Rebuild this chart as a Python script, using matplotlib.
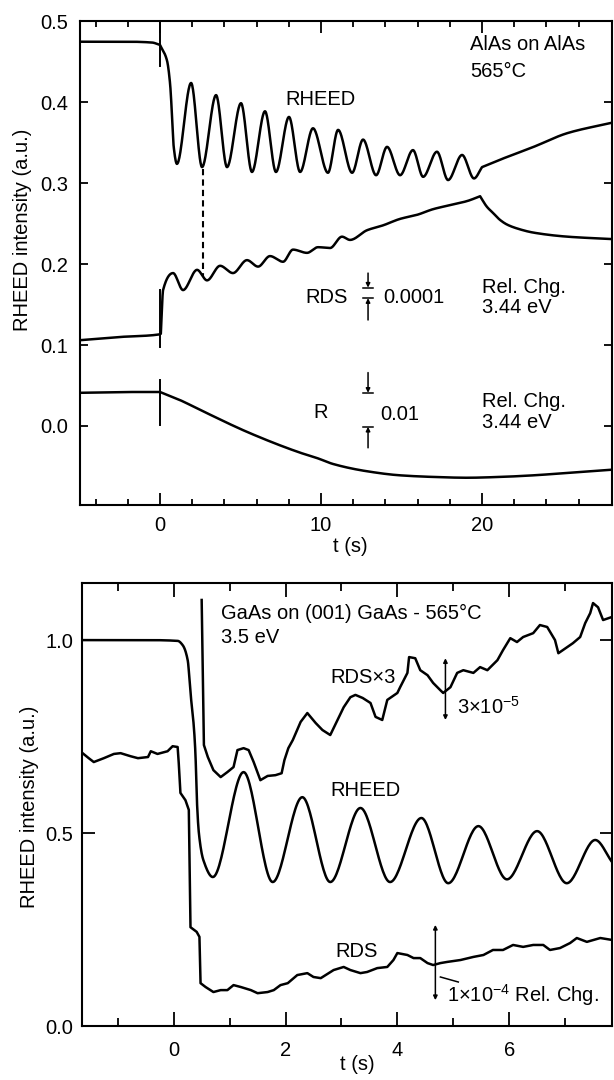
import numpy as np
import matplotlib
matplotlib.use('Agg')
import matplotlib.pyplot as plt

plt.rcParams['font.family'] = ['Liberation Sans', 'DejaVu Sans']
plt.rcParams['mathtext.default'] = 'regular'

# ---------------- top panel: AlAs on AlAs ----------------
rheed_top_t = [-5.0, -2.0, -0.5, 0.0, 0.43, 0.62, 0.75, 0.85, 1.05,
               1.93, 2.61, 3.48, 4.16, 5.03, 5.71, 6.52, 7.20, 8.01, 8.70, 9.50, 10.43,
               11.06, 11.93, 12.61, 13.42, 14.10, 14.91, 15.71, 16.34, 17.20, 17.89, 18.76, 19.50,
               20.00, 21.10, 23.20, 25.30, 28.10]
rheed_top_v = [0.475, 0.475, 0.474, 0.471, 0.452, 0.424, 0.382, 0.345, 0.324,
               0.424, 0.320, 0.409, 0.320, 0.399, 0.314, 0.389, 0.314, 0.382, 0.314, 0.368, 0.313,
               0.366, 0.313, 0.354, 0.310, 0.345, 0.310, 0.341, 0.308, 0.339, 0.304, 0.335, 0.306,
               0.320, 0.329, 0.345, 0.362, 0.375]

rds_top_t = [-5.0, -2.5, -0.1, 0.05,
             0.19, 0.81, 1.43, 2.30, 2.92, 3.73, 4.53, 5.40, 6.09, 6.83, 7.64, 8.26, 9.13,
             9.81, 10.56, 11.30, 11.80,
             12.86, 13.85, 14.91, 15.96, 16.96, 18.01, 19.07, 19.88,
             20.30, 20.70, 21.10, 21.55, 22.20, 23.20, 25.30, 28.10]
rds_top_v = [0.106, 0.110, 0.113, 0.114,
             0.168, 0.189, 0.168, 0.193, 0.180, 0.198, 0.189, 0.205, 0.197, 0.210, 0.203, 0.218, 0.214,
             0.221, 0.220, 0.234, 0.230,
             0.242, 0.248, 0.256, 0.261, 0.268, 0.273, 0.278, 0.284,
             0.271, 0.263, 0.255, 0.249, 0.244, 0.239, 0.234, 0.231]

r_top_t = [-5.0, -2.0, 0.0, 1.24, 2.48, 5.60, 8.70, 9.80, 10.75, 12.86, 14.90,
           16.96, 19.07, 21.10, 23.20, 25.30, 28.10]
r_top_v = [0.041, 0.042, 0.042, 0.032, 0.020, -0.009, -0.033, -0.040, -0.047, -0.056, -0.061,
           -0.063, -0.064, -0.063, -0.061, -0.058, -0.054]

# ---------------- bottom panel: GaAs on (001) GaAs ----------------
rheed_bot_t = [-1.65, -0.5, 0.07, 0.16, 0.25, 0.30, 0.36, 0.39, 0.41, 0.45, 0.53, 0.70,
               1.25, 1.77, 2.30, 2.80, 3.34, 3.87, 4.43, 4.91, 5.45, 5.96, 6.50, 7.03, 7.54, 7.84]
rheed_bot_v = [1.000, 1.000, 0.998, 0.987, 0.948, 0.863, 0.775, 0.700, 0.600, 0.500, 0.430, 0.386,
               0.658, 0.373, 0.593, 0.373, 0.565, 0.373, 0.539, 0.370, 0.518, 0.380, 0.505, 0.370,
               0.482, 0.425]

rds3_t = [0.50, 0.54, 0.61, 0.71, 0.84, 0.96, 1.07, 1.14, 1.25, 1.34, 1.43, 1.55, 1.68, 1.82,
          1.93, 1.98, 2.05, 2.13, 2.27, 2.39, 2.54, 2.66, 2.80, 2.93, 3.04, 3.16, 3.25, 3.38,
          3.52, 3.61, 3.73, 3.82, 4.00, 4.05, 4.18, 4.21, 4.32, 4.41, 4.54, 4.64, 4.77, 4.82,
          4.95, 5.07, 5.18, 5.36, 5.48, 5.61, 5.79, 5.89, 6.02, 6.14, 6.25, 6.43, 6.55, 6.68,
          6.82, 6.88, 7.04, 7.14, 7.27, 7.36, 7.45, 7.50, 7.59, 7.68, 7.84]
rds3_v = [1.104, 0.728, 0.697, 0.663, 0.645, 0.658, 0.671, 0.715, 0.720, 0.715, 0.684, 0.637,
          0.648, 0.650, 0.655, 0.689, 0.720, 0.741, 0.788, 0.811, 0.785, 0.767, 0.754, 0.793,
          0.826, 0.852, 0.858, 0.850, 0.837, 0.801, 0.793, 0.845, 0.863, 0.878, 0.915, 0.956,
          0.953, 0.922, 0.909, 0.889, 0.870, 0.863, 0.878, 0.915, 0.922, 0.915, 0.930, 0.922,
          0.948, 0.974, 1.005, 0.995, 1.008, 1.018, 1.039, 1.034, 1.000, 0.966, 0.982, 0.992,
          1.008, 1.044, 1.070, 1.096, 1.085, 1.052, 1.060]

rds_bot_t = [-1.63, -1.52, -1.43, -1.25, -1.07, -0.95, -0.77, -0.64, -0.46, -0.41, -0.29, -0.11,
             -0.02, 0.07, 0.09, 0.12, 0.21, 0.27, 0.30, 0.41, 0.46, 0.48, 0.57, 0.71, 0.84, 0.96,
             1.07, 1.20, 1.38, 1.50, 1.68, 1.79, 1.91, 2.04, 2.21, 2.39, 2.50, 2.63, 2.86, 3.04,
             3.16, 3.34, 3.46, 3.64, 3.82, 3.93, 4.00, 4.18, 4.29, 4.41, 4.54, 4.64, 4.77, 4.89,
             5.13, 5.36, 5.54, 5.71, 5.89, 6.07, 6.25, 6.43, 6.61, 6.73, 6.91, 7.09, 7.21, 7.39,
             7.63, 7.84]
rds_bot_v = [0.707, 0.694, 0.684, 0.694, 0.705, 0.707, 0.699, 0.694, 0.697, 0.712, 0.705, 0.712,
             0.725, 0.723, 0.681, 0.604, 0.585, 0.560, 0.256, 0.244, 0.231, 0.111, 0.101, 0.088,
             0.093, 0.093, 0.106, 0.101, 0.093, 0.085, 0.088, 0.093, 0.106, 0.111, 0.132, 0.137,
             0.127, 0.124, 0.145, 0.153, 0.145, 0.137, 0.140, 0.150, 0.153, 0.171, 0.189, 0.184,
             0.176, 0.176, 0.163, 0.158, 0.163, 0.166, 0.171, 0.179, 0.184, 0.197, 0.197, 0.210,
             0.205, 0.210, 0.210, 0.197, 0.202, 0.215, 0.228, 0.218, 0.228, 0.223]


def pchip(x, y, n=30):
    # monotone cubic through the read points, so peaks stay round
    x = np.asarray(x, float)
    y = np.asarray(y, float)
    h = np.diff(x)
    d = np.diff(y) / h
    m = np.zeros_like(y)
    for k in range(1, len(x) - 1):
        if d[k - 1] * d[k] > 0:
            w1 = 2 * h[k] + h[k - 1]
            w2 = h[k] + 2 * h[k - 1]
            m[k] = (w1 + w2) / (w1 / d[k - 1] + w2 / d[k])
    m[0] = d[0]
    m[-1] = d[-1]
    xs, ys = [], []
    s = np.linspace(0, 1, n)
    for k in range(len(h)):
        h00 = 2 * s**3 - 3 * s**2 + 1
        h10 = s**3 - 2 * s**2 + s
        h01 = -2 * s**3 + 3 * s**2
        h11 = s**3 - s**2
        xs.append(x[k] + s * h[k])
        ys.append(h00 * y[k] + h10 * h[k] * m[k] + h01 * y[k + 1] + h11 * h[k] * m[k + 1])
    return np.concatenate(xs), np.concatenate(ys)


def smooth_line(ax, t, v, breaks=(), **kw):
    idx = [0] + list(breaks) + [len(t) - 1]
    xs, ys = [], []
    for a, b in zip(idx[:-1], idx[1:]):
        px, py = pchip(t[a:b + 1], v[a:b + 1])
        xs.append(px)
        ys.append(py)
    ax.plot(np.concatenate(xs), np.concatenate(ys), **kw)


def bar_arrow(ax, x, v_from, v_to, half=0.3):
    ax.annotate('', xy=(x, v_to), xytext=(x, v_from),
                arrowprops=dict(arrowstyle='-|>', lw=1.1, color='k', mutation_scale=6,
                                shrinkA=0, shrinkB=0))
    ax.plot([x - half, x + half], [v_to, v_to], color='k', lw=1.1)


fs = 14.5
lw = 1.8
line = dict(color='black', lw=lw, solid_joinstyle='round')

fig = plt.figure(figsize=(6.14, 10.8), dpi=100)
ax1 = fig.add_axes([0.1303, 0.5324, 0.8664, 0.4477])
ax2 = fig.add_axes([0.1336, 0.050, 0.8632, 0.4102])

# ---- top panel
smooth_line(ax1, rheed_top_t, rheed_top_v, breaks=[3, 33], **line)
smooth_line(ax1, rds_top_t, rds_top_v, breaks=[3, 28], **line)
smooth_line(ax1, r_top_t, r_top_v, breaks=[2], **line)

# growth start markers and the dashed guide
ax1.plot([0, 0], [0.5, 0.445], color='k', lw=1.4)
ax1.plot([0, 0], [0.098, 0.168], color='k', lw=1.4)
ax1.plot([0, 0], [0.001, 0.057], color='k', lw=1.4)
ax1.plot([2.67, 2.67], [0.318, 0.186], color='k', lw=1.5, ls=(0, (3, 2)))

bar_arrow(ax1, 12.92, 0.189, 0.171)
bar_arrow(ax1, 12.92, 0.131, 0.158)
bar_arrow(ax1, 12.92, 0.066, 0.041)
bar_arrow(ax1, 12.92, -0.027, -0.001)

ax1.text(7.76, 0.403, 'RHEED', fontsize=fs, va='center')
ax1.text(19.25, 0.471, 'AlAs on AlAs', fontsize=fs, va='center')
ax1.text(19.25, 0.438, '565°C', fontsize=fs, va='center')
ax1.text(9.0, 0.159, 'RDS', fontsize=fs, va='center')
ax1.text(13.85, 0.159, '0.0001', fontsize=fs, va='center')
ax1.text(20.0, 0.171, 'Rel. Chg.', fontsize=fs, va='center')
ax1.text(20.0, 0.146, '3.44 eV', fontsize=fs, va='center')
ax1.text(9.5, 0.017, 'R', fontsize=fs, va='center')
ax1.text(13.66, 0.0136, '0.01', fontsize=fs, va='center')
ax1.text(20.0, 0.030, 'Rel. Chg.', fontsize=fs, va='center')
ax1.text(20.0, 0.004, '3.44 eV', fontsize=fs, va='center')

ax1.set_xlim(-4.97, 28.07)
ax1.set_ylim(-0.0977, 0.5)
ax1.set_xticks([0, 10, 20])
ax1.set_xticks(np.arange(-4, 28, 2), minor=True)
ax1.set_yticks([0.0, 0.1, 0.2, 0.3, 0.4, 0.5])
ax1.set_yticklabels(['0.0', '0.1', '0.2', '0.3', '0.4', '0.5'])
ax1.tick_params(which='both', direction='in', top=True, right=True, width=1.3, labelsize=fs)
ax1.tick_params(axis='x', which='major', length=8.5, pad=8)
ax1.tick_params(axis='x', which='minor', length=4.3)
ax1.tick_params(axis='y', which='major', length=5.8, pad=8.5)
ax1.set_xlabel('t (s)', fontsize=fs)
ax1.set_ylabel('RHEED intensity (a.u.)', fontsize=fs)
ax1.xaxis.set_label_coords(0.509, -0.066)
ax1.yaxis.set_label_coords(-0.090, 0.569)

# ---- bottom panel
smooth_line(ax2, rheed_bot_t, rheed_bot_v, **line)
ax2.plot(rds3_t, rds3_v, **line)
ax2.plot(rds_bot_t, rds_bot_v, **line)

ax2.annotate('', xy=(4.86, 0.953), xytext=(4.86, 0.793),
             arrowprops=dict(arrowstyle='<|-|>', lw=1.1, color='k', mutation_scale=6,
                             shrinkA=0, shrinkB=0))
ax2.annotate('', xy=(4.68, 0.262), xytext=(4.68, 0.067),
             arrowprops=dict(arrowstyle='<|-|>', lw=1.1, color='k', mutation_scale=6,
                             shrinkA=0, shrinkB=0))
ax2.plot([4.77, 5.09], [0.127, 0.114], color='k', lw=1.1)

ax2.text(0.84, 1.070, 'GaAs on (001) GaAs - 565°C', fontsize=fs, va='center')
ax2.text(0.84, 1.008, '3.5 eV', fontsize=fs, va='center')
ax2.text(2.80, 0.902, 'RDS×3', fontsize=fs, va='center')
ax2.text(2.80, 0.611, 'RHEED', fontsize=fs, va='center')
ax2.text(2.89, 0.192, 'RDS', fontsize=fs, va='center')
ax2.text(5.07, 0.826, r'3$\times$10$^{-5}$', fontsize=fs, va='center')
ax2.text(4.89, 0.080, r'1$\times$10$^{-4}$ Rel. Chg.', fontsize=fs, va='center')

ax2.set_xlim(-1.64, 7.84)
ax2.set_ylim(0, 1.148)
ax2.set_xticks([0, 2, 4, 6])
ax2.set_xticks([-1, 1, 3, 5, 7], minor=True)
ax2.set_yticks([0.0, 0.5, 1.0])
ax2.set_yticklabels(['0.0', '0.5', '1.0'])
ax2.tick_params(which='both', direction='in', top=True, right=True, width=1.3, labelsize=fs)
ax2.tick_params(axis='x', which='major', length=10, pad=11)
ax2.tick_params(axis='x', which='minor', length=5.8)
ax2.tick_params(axis='y', which='major', length=9, pad=6.5)
ax2.set_xlabel('t (s)', fontsize=fs)
ax2.set_ylabel('RHEED intensity (a.u.)', fontsize=fs)
ax2.xaxis.set_label_coords(0.519, -0.065)
ax2.yaxis.set_label_coords(-0.081, 0.494)

for ax in (ax1, ax2):
    for s in ax.spines.values():
        s.set_linewidth(1.5)

fig.savefig('out.png', dpi=100)
